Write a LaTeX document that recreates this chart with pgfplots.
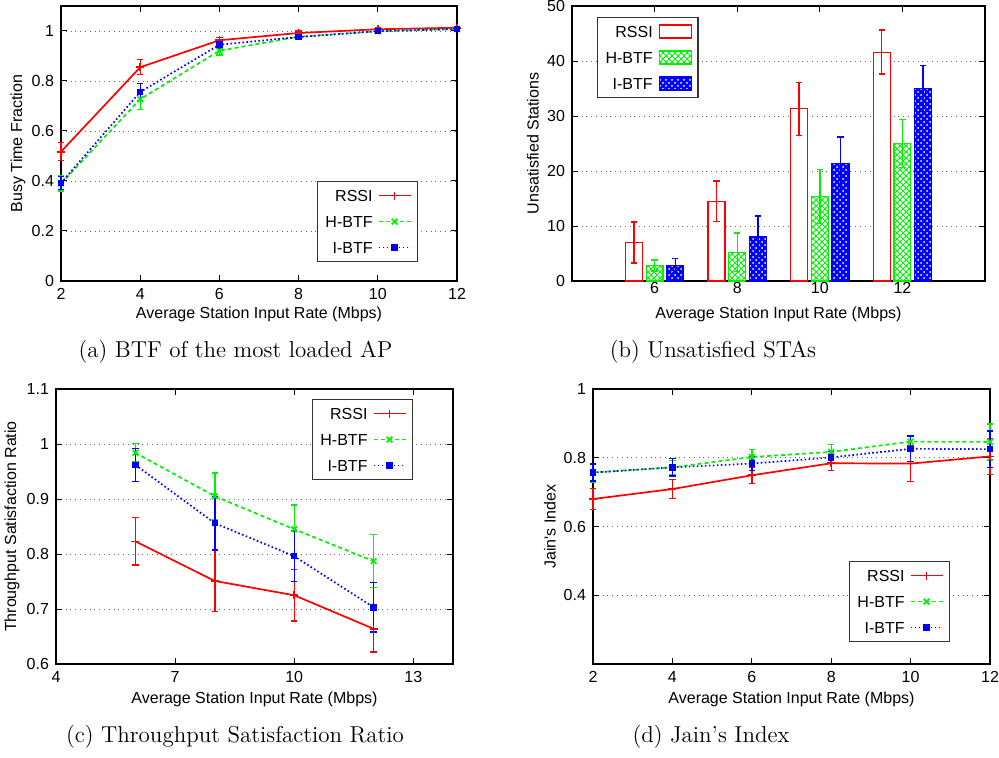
\documentclass[border=0pt]{standalone}
\usepackage{fontspec}
\usepackage{pgfplots}
\pgfplotsset{compat=1.18}
\usetikzlibrary{patterns}
\newfontfamily\axisfont{Liberation Sans}
\definecolor{cR}{rgb}{1,0,0}
\definecolor{cG}{rgb}{0,0.95,0}
\definecolor{cB}{rgb}{0,0,1}
\newcommand{\af}{\axisfont\fontsize{8}{9.6}\selectfont}
\pgfplotsset{
  myaxis/.style={
    scale only axis,
    height=137.5pt,
    font=\af,
    /pgf/number format/assume math mode=true,
    tick label style={font=\af},
    label style={font=\af},
    tick align=inside,
    major tick length=3pt,
    axis line style={line width=0.7pt},
    every tick/.style={black, line width=0.5pt},
    ymajorgrids,
    major grid style={dotted, black!60, line width=0.45pt},
    legend cell align=right,
    legend plot pos=right,
    legend style={font=\af, draw=black!80, line width=0.6pt, inner xsep=3pt, inner ysep=3pt,
      row sep=5pt, nodes={inner sep=1pt, text height=6pt, text depth=0pt}},
    clip=false,
    every axis y label/.style={rotate=90, anchor=center},
    every axis x label/.style={anchor=center},
    scaled ticks=false,
  },
  lineleg/.style={legend image code/.code={\path[draw=none,fill=none] (0pt,0pt);
      \draw[mark repeat=2,mark phase=2,##1] plot coordinates {(2pt,0pt) (10pt,0pt) (18pt,0pt)};}},
  sR/.style={color=cR, draw=cR, line width=0.85pt, solid, mark=+, mark size=2pt, mark options={solid, draw=cR}},
  sG/.style={color=cG, draw=cG, line width=0.85pt, dash pattern=on 2pt off 1.5pt, mark=x, mark size=2pt, mark options={solid, draw=cG}},
  sB/.style={color=cB, draw=cB, line width=0.85pt, dash pattern=on 0.8pt off 1.2pt, mark=square*, mark size=1.2pt, mark options={solid, draw=cB, fill=cB}},
  eb/.style={error bars/.cd, y dir=both, y explicit,
    error bar style={solid, line width=0.7pt, color=#1, draw=#1},
    error mark options={rotate=90, mark size=1.6pt, solid, line width=0.7pt, color=#1, draw=#1}},
}
\begin{document}
\begin{tikzpicture}
\useasboundingbox (0,0) rectangle (499.5pt,-379pt);
% (a)
\begin{axis}[myaxis, lineleg, at={(30.5pt,-140.5pt)}, anchor=south west, width=198pt,
  xmin=2, xmax=12, ymin=0, ymax=1.1, xtick={2,4,6,8,10,12}, ytick={0,0.2,0.4,0.6,0.8,1},
  xlabel={Average Station Input Rate (Mbps)}, ylabel={Busy Time Fraction},
  xlabel style={at={(axis description cs:0.5,-0.12)}},
  ylabel style={at={(axis description cs:-0.1086,0.5)}},
  legend style={at={(0.9015,0.3636)}, anchor=north east}]
\addplot[sR, eb=cR] coordinates {(2,0.517) +- (0,0.036) (4,0.855) +- (0,0.03) (6,0.963) +- (0,0.011) (8,0.992) +- (0,0.008) (10,1.007) +- (0,0.005) (12,1.013) +- (0,0.004)};
\addplot[sG, eb=cG] coordinates {(2,0.390) +- (0,0.03) (4,0.727) +- (0,0.04) (6,0.921) +- (0,0.017) (8,0.977) +- (0,0.006) (10,0.999) +- (0,0.004) (12,1.007) +- (0,0.004)};
\addplot[sB, eb=cB] coordinates {(2,0.392) +- (0,0.026) (4,0.756) +- (0,0.035) (6,0.945) +- (0,0.016) (8,0.976) +- (0,0.006) (10,0.999) +- (0,0.004) (12,1.008) +- (0,0.004)};
\legend{RSSI,H-BTF,I-BTF}
\end{axis}
% (b)
\begin{axis}[myaxis, at={(286pt,-140.5pt)}, anchor=south west, width=206.5pt,
  ybar, bar width=0.41, tick align=inside, xticklabel style={yshift=3pt},
  xmin=4, xmax=14, ymin=0, ymax=50, xtick={6,8,10,12}, ytick={0,10,20,30,40,50},
  xlabel={Average Station Input Rate (Mbps)}, ylabel={Unsatisfied Stations},
  xlabel style={at={(axis description cs:0.5,-0.12)}},
  ylabel style={at={(axis description cs:-0.0944,0.5)}},
  legend style={at={(0.0605,0.96)}, anchor=north west},
  legend image code/.code={\path[draw=none,fill=none] (0pt,0pt); \draw[#1] (2pt,-3.25pt) rectangle (18pt,3.25pt);}]
\addplot[draw=cR, fill=white, line width=0.6pt, bar shift=-0.5, eb=cR] coordinates {(6,7.0) +- (0,3.7) (8,14.5) +- (0,3.7) (10,31.3) +- (0,4.8) (12,41.6) +- (0,4.0)};
\addplot[draw=cG, fill=white, line width=0.6pt, postaction={pattern=crosshatch, pattern color=cG}, bar shift=0, eb=cG] coordinates {(6,2.8) +- (0,1.0) (8,5.2) +- (0,3.5) (10,15.4) +- (0,4.9) (12,25.0) +- (0,4.4)};
\addplot[draw=cB, fill=cB, line width=0.6pt, postaction={pattern=crosshatch dots, pattern color=white}, bar shift=0.5, eb=cB] coordinates {(6,2.8) +- (0,1.3) (8,8.1) +- (0,3.7) (10,21.4) +- (0,4.8) (12,35.0) +- (0,4.2)};
\legend{RSSI,H-BTF,I-BTF}
\end{axis}
% (c)
\begin{axis}[myaxis, lineleg, at={(28pt,-332pt)}, anchor=south west, width=198.5pt,
  xmin=4, xmax=14, ymin=0.6, ymax=1.1, xtick={4,7,10,13}, ytick={0.6,0.7,0.8,0.9,1,1.1},
  xlabel={Average Station Input Rate (Mbps)}, ylabel={Throughput Satisfaction Ratio},
  xlabel style={at={(axis description cs:0.5,-0.127)}},
  ylabel style={at={(axis description cs:-0.1108,0.5)}},
  legend style={at={(0.8992,0.9636)}, anchor=north east}]
\addplot[sR, eb=cR] coordinates {(6,0.823) +- (0,0.043) (8,0.751) +- (0,0.055) (10,0.725) +- (0,0.047) (12,0.664) +- (0,0.042)};
\addplot[sG, eb=cG] coordinates {(6,0.984) +- (0,0.017) (8,0.905) +- (0,0.042) (10,0.845) +- (0,0.044) (12,0.787) +- (0,0.048)};
\addplot[sB, eb=cB] coordinates {(6,0.962) +- (0,0.03) (8,0.856) +- (0,0.049) (10,0.796) +- (0,0.046) (12,0.703) +- (0,0.045)};
\legend{RSSI,H-BTF,I-BTF}
\end{axis}
% (d)
\begin{axis}[myaxis, lineleg, at={(296.5pt,-332pt)}, anchor=south west, width=198.5pt,
  xmin=2, xmax=12, ymin=0.2, ymax=1, xtick={2,4,6,8,10,12}, ytick={0.4,0.6,0.8,1},
  xlabel={Average Station Input Rate (Mbps)}, ylabel={Jain's Index},
  xlabel style={at={(axis description cs:0.5,-0.127)}},
  ylabel style={at={(axis description cs:-0.1083,0.5)}},
  legend style={at={(0.8992,0.3745)}, anchor=north east}]
\addplot[sR, eb=cR] coordinates {(2,0.680) +- (0,0.031) (4,0.709) +- (0,0.027) (6,0.749) +- (0,0.024) (8,0.784) +- (0,0.021) (10,0.783) +- (0,0.052) (12,0.804) +- (0,0.052)};
\addplot[sG, eb=cG] coordinates {(2,0.757) +- (0,0.027) (4,0.772) +- (0,0.02) (6,0.802) +- (0,0.022) (8,0.817) +- (0,0.021) (10,0.847) +- (0,0.018) (12,0.846) +- (0,0.052)};
\addplot[sB, eb=cB] coordinates {(2,0.757) +- (0,0.025) (4,0.772) +- (0,0.025) (6,0.783) +- (0,0.02) (8,0.801) +- (0,0.018) (10,0.826) +- (0,0.037) (12,0.825) +- (0,0.053)};
\legend{RSSI,H-BTF,I-BTF}
\end{axis}
% captions
\node[font=\fontsize{11.5}{13.5}\selectfont] at (117.75pt,-176pt) {(a) BTF of the most loaded AP};
\node[font=\fontsize{11.5}{13.5}\selectfont] at (356.5pt,-176pt) {(b) Unsatisfied STAs};
\node[font=\fontsize{11.5}{13.5}\selectfont] at (117.5pt,-368.5pt) {(c) Throughput Satisfaction Ratio};
\node[font=\fontsize{11.5}{13.5}\selectfont] at (355.5pt,-368.5pt) {(d) Jain's Index};
\end{tikzpicture}
\end{document}
